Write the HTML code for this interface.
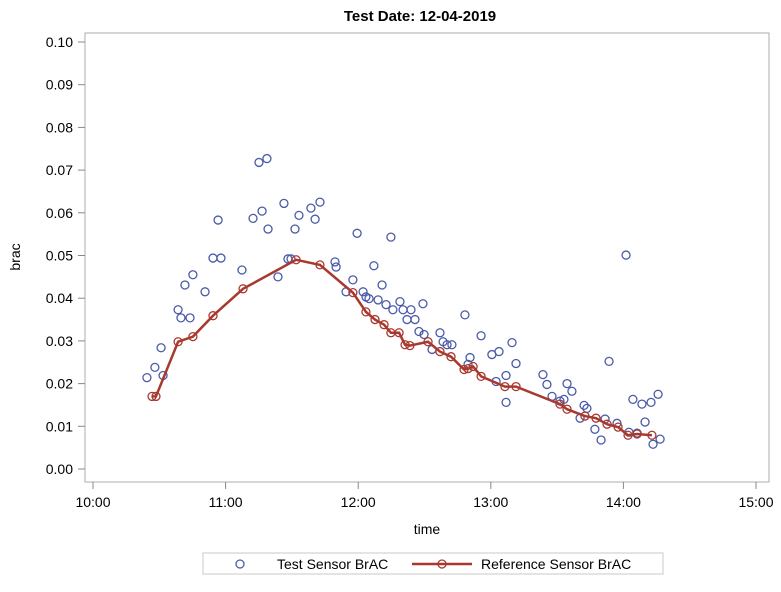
<!DOCTYPE html>
<html><head><meta charset="utf-8"><style>
body{margin:0;background:#fff;font-family:"Liberation Sans",sans-serif}
svg text{font-family:"Liberation Sans",sans-serif}
</style></head><body>
<svg id="chart" width="781" height="587" viewBox="0 0 781 587" xmlns="http://www.w3.org/2000/svg">
<text x="420" y="21" text-anchor="middle" font-size="15" font-weight="bold" fill="#000">Test Date: 12-04-2019</text>
<rect x="85" y="33" width="684" height="449" fill="none" stroke="#a8acb4" stroke-width="1"/>
<g id="yaxis"></g>
<g id="xaxis"></g>
<text transform="translate(20,257) rotate(-90)" text-anchor="middle" font-size="14" fill="#000">brac</text>
<text x="427" y="534" text-anchor="middle" font-size="14" fill="#000">time</text>
<g id="marks"></g>
<g>
<rect x="203" y="553" width="460" height="21" fill="#fff" stroke="#c8c8c8"/>
<circle cx="240" cy="564" r="4" fill="none" stroke="#4a5aa8" stroke-width="1.3"/>
<text x="277" y="569" font-size="14" fill="#000">Test Sensor BrAC</text>
<line x1="412" y1="564" x2="472" y2="564" stroke="#a8392e" stroke-width="2.5"/>
<circle cx="442" cy="564" r="4" fill="none" stroke="#a8392e" stroke-width="1.3"/>
<text x="481" y="569" font-size="14" fill="#000">Reference Sensor BrAC</text>
</g>
</svg>
<script>
const yTicks=[0,0.01,0.02,0.03,0.04,0.05,0.06,0.07,0.08,0.09,0.10];
const xTickMinutes=[0,60,120,180,240,300];
const xTickLabels=["10:00","11:00","12:00","13:00","14:00","15:00"];
const testMin=[24.4,28,30.8,31.7,38.5,39.8,41.6,43.9,45.2,50.7,54.3,56.6,57.9,67.4,72.4,75.1,76.5,78.7,79.2,83.7,86.4,88.2,89.6,91.4,93.2,98.6,100.5,102.7,109.5,110,114.5,117.6,119.5,122.2,123.5,124.9,127.1,129,130.8,132.6,134.8,135.7,138.9,140.3,142.1,143.9,145.7,147.5,149.3,149.8,153.4,157,158.4,160.2,162.4,168.3,169.7,170.6,175.6,180.5,182.4,183.7,186.9,186.9,189.6,191.4,203.6,205.4,207.7,211.3,213.1,214.5,216.7,220.4,222.2,223.5,227.1,229.9,231.7,233.5,237.1,241.2,242.5,244.3,246.2,248.4,249.8,252.5,253.4,255.7,256.6];
const testVal=[.0214,.0238,.0284,.0219,.0373,.0354,.0431,.0354,.0455,.0415,.0494,.0583,.0494,.0466,.0587,.0718,.0604,.0727,.0562,.0450,.0622,.0492,.0492,.0562,.0594,.0611,.0585,.0625,.0485,.0473,.0415,.0443,.0552,.0415,.0403,.0399,.0476,.0396,.0431,.0385,.0543,.0373,.0392,.0373,.0350,.0373,.0350,.0322,.0387,.0315,.0280,.0319,.0298,.0291,.0291,.0361,.0245,.0261,.0312,.0268,.0205,.0275,.0156,.0219,.0296,.0247,.0221,.0198,.0170,.0159,.0163,.0200,.0182,.0119,.0149,.0142,.0093,.0068,.0117,.0252,.0107,.0501,.0086,.0163,.0084,.0152,.0110,.0156,.0058,.0175,.0070];
const refMin=[26.7,28.5,38.5,45.2,54.3,67.9,91.9,102.7,117.6,123.5,127.6,131.7,134.8,138.5,141.2,143.4,151.6,157,162,167.9,169.7,172,175.6,186.4,191.4,211.3,214.5,222.6,227.6,232.6,237.6,242.1,246.2,252.9];
const refVal=[.0170,.0170,.0298,.0310,.0359,.0422,.0490,.0478,.0413,.0368,.0350,.0338,.0319,.0319,.0291,.0289,.0298,.0275,.0263,.0233,.0235,.0240,.0217,.0193,.0193,.0152,.0140,.0124,.0119,.0105,.0098,.0079,.0082,.0079];
const NS="http://www.w3.org/2000/svg";
const xs=m=>93+m*(663/300);
const ys=v=>469-v*4270;
function mk(t,a,p){const e=document.createElementNS(NS,t);for(const k in a)e.setAttribute(k,a[k]);p.appendChild(e);return e;}
const ya=document.getElementById('yaxis'),xa=document.getElementById('xaxis'),mg=document.getElementById('marks');
yTicks.forEach(v=>{
 const l=mk('line',{x1:78,x2:85,y1:ys(v),y2:ys(v),stroke:'#888'},ya);
 
 
 const t=mk('text',{x:73,y:ys(v)+5,'text-anchor':'end','font-size':14,fill:'#000'},ya);
 t.textContent=v.toFixed(2);
 
 
});
xTickMinutes.forEach((m,i)=>{
 const l=mk('line',{x1:xs(m),x2:xs(m),y1:482,y2:489,stroke:'#888'},xa);
 
 
 const t=mk('text',{x:xs(m),y:507,'text-anchor':'middle','font-size':14,fill:'#000'},xa);
 t.textContent=xTickLabels[i];
 
 
});
testMin.forEach((m,i)=>{
 const c=mk('circle',{cx:xs(m),cy:ys(testVal[i]),r:4,fill:'none',stroke:'#4a5aa8','stroke-width':1.3},mg);
 
 
});
const pl=mk('polyline',{points:refMin.map((m,i)=>xs(m)+','+ys(refVal[i])).join(' '),fill:'none',stroke:'#a8392e','stroke-width':2.5},mg);


refMin.forEach((m,i)=>{
 const c=mk('circle',{cx:xs(m),cy:ys(refVal[i]),r:4,fill:'none',stroke:'#a8392e','stroke-width':1.3},mg);
 
 
});
</script>
</body></html>
